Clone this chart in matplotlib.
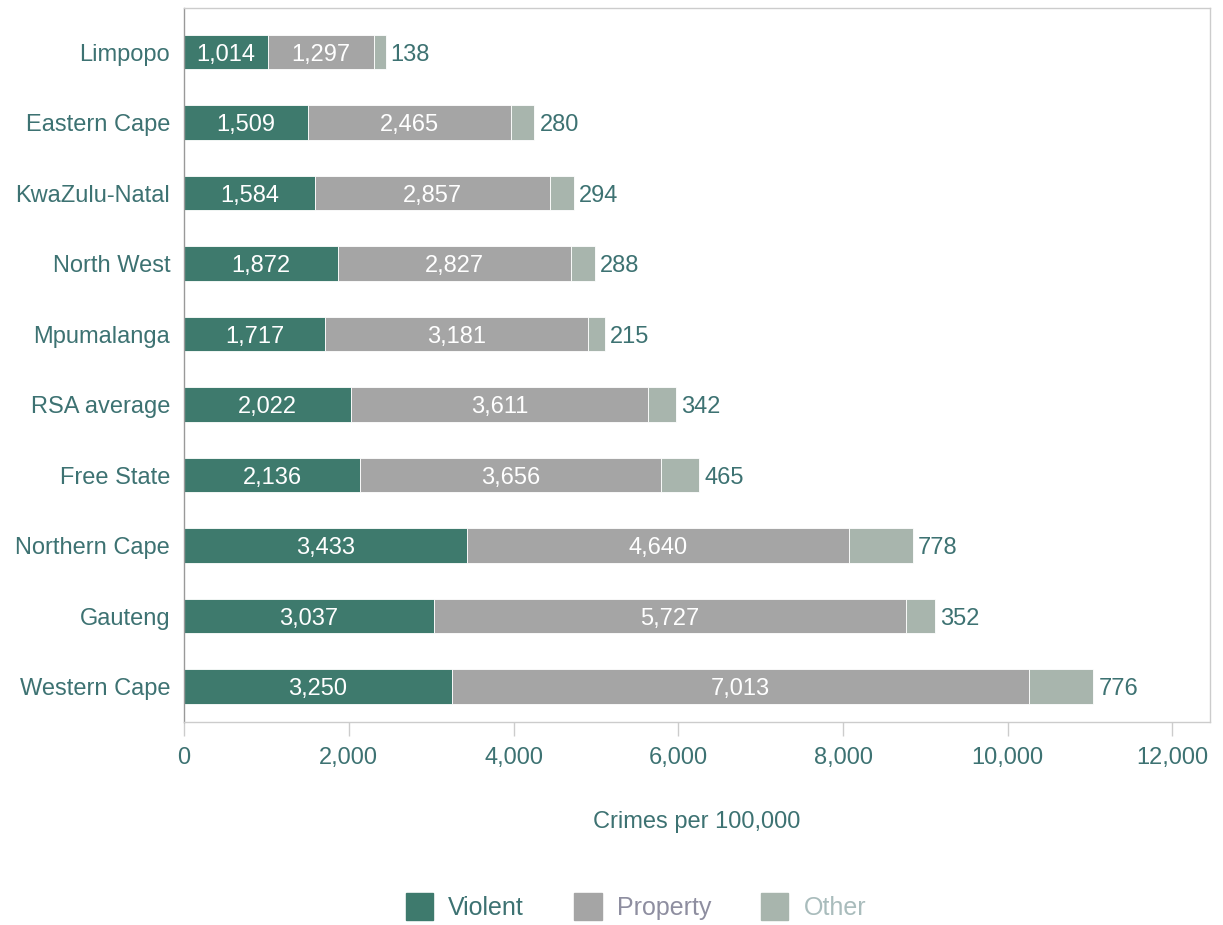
import matplotlib
matplotlib.use("Agg")
import matplotlib.pyplot as plt
import numpy as np
from matplotlib.patches import Patch

plt.rcParams['font.family'] = ['Liberation Sans', 'DejaVu Sans']

regions = ['Limpopo', 'Eastern Cape', 'KwaZulu-Natal', 'North West', 'Mpumalanga',
           'RSA average', 'Free State', 'Northern Cape', 'Gauteng', 'Western Cape']
violent = [1014, 1509, 1584, 1872, 1717, 2022, 2136, 3433, 3037, 3250]
prop = [1297, 2465, 2857, 2827, 3181, 3611, 3656, 4640, 5727, 7013]
other = [138, 280, 294, 288, 215, 342, 465, 778, 352, 776]
xticks = [0, 2000, 4000, 6000, 8000, 10000, 12000]

c_viol = '#3e7a6d'
c_prop = '#a5a5a5'
c_oth = '#a8b5ad'
txt = '#3d7272'

fig = plt.figure(figsize=(12.23, 9.25), dpi=100)
ax = fig.add_axes([0.1505, 0.2195, 0.8385, 0.7715])

# top category first
y = np.arange(len(regions))[::-1]
v = np.array(violent)
p = np.array(prop)
o = np.array(other)
h = 0.49

ax.barh(y, v, height=h, color=c_viol, edgecolor='white', linewidth=0.6)
ax.barh(y, p, left=v, height=h, color=c_prop, edgecolor='white', linewidth=0.6)
ax.barh(y, o, left=v + p, height=h, color=c_oth, edgecolor='white', linewidth=0.6)

for yi, a, b, c in zip(y, v, p, o):
    ax.text(a / 2, yi, f'{a:,}', ha='center', va='center_baseline', color='white', fontsize=17)
    ax.text(a + b / 2, yi, f'{b:,}', ha='center', va='center_baseline', color='white', fontsize=17)
    ax.text(a + b + c + 60, yi, f'{c:,}', ha='left', va='center_baseline', color=txt, fontsize=17)

ax.set_xlim(0, 12450)
ax.set_ylim(-0.5, len(regions) - 0.38)
ax.set_yticks(y)
ax.set_yticklabels(regions)
ax.set_xticks(xticks)
ax.set_xticklabels([f'{t:,}' for t in xticks])
ax.tick_params(axis='y', length=0, pad=10, labelsize=17, labelcolor=txt)
ax.tick_params(axis='x', length=10, width=1, color='#cccccc', pad=8,
               labelsize=17, labelcolor=txt)
for s in ax.spines.values():
    s.set_color('#cccccc')
    s.set_linewidth(1)
ax.spines['left'].set_color('#999999')

ax.set_xlabel('Crimes per 100,000', fontsize=17, color=txt, labelpad=30)

handles = [Patch(color=c_viol), Patch(color=c_prop), Patch(color=c_oth)]
leg = fig.legend(handles, ['Violent', 'Property', 'Other'], loc='center',
                 bbox_to_anchor=(0.52, 0.02), ncol=3, frameon=False,
                 fontsize=18, handlelength=1.1, handleheight=1.3,
                 columnspacing=2.0, handletextpad=0.6)
for t, c in zip(leg.get_texts(), [txt, '#8e8ea0', '#a9bcbc']):
    t.set_color(c)

fig.savefig('out.png', dpi=100)
